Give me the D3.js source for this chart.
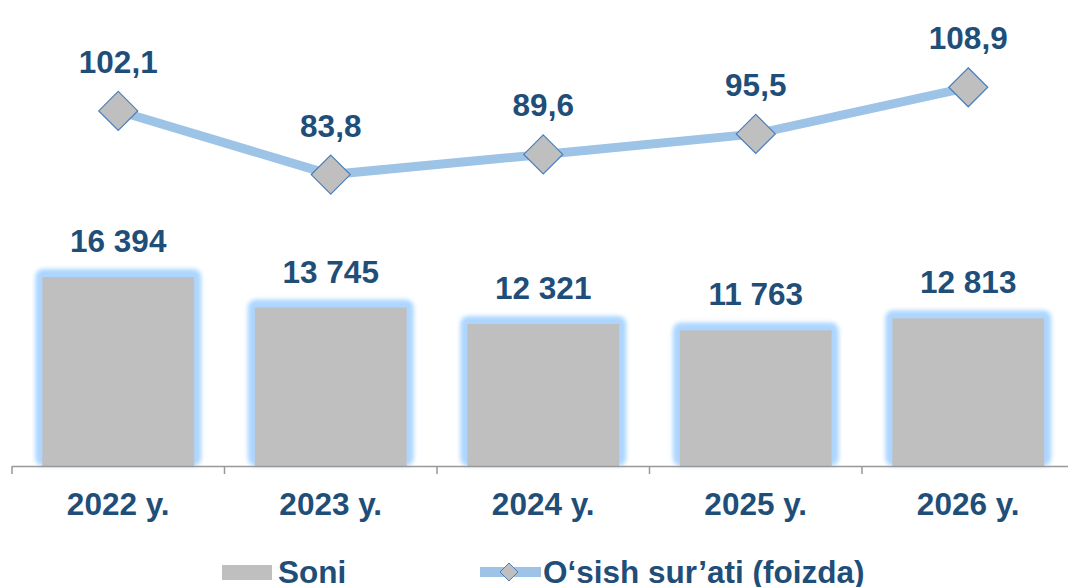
<!DOCTYPE html>
<html>
<head>
<meta charset="utf-8">
<script src="https://cdn.jsdelivr.net/npm/d3@7"></script>
<style>
  body { margin: 0; background: #fff; }
  text { font-family: "Liberation Sans", Arial, sans-serif; font-weight: bold; fill: #1F4E79; }
</style>
</head>
<body>
<script>
const years = ["2022 y.", "2023 y.", "2024 y.", "2025 y.", "2026 y."];
const soni = [16394, 13745, 12321, 11763, 12813];
const osish = [102.1, 83.8, 89.6, 95.5, 108.9];
const soniLabels = ["16 394", "13 745", "12 321", "11 763", "12 813"];
const osishLabels = ["102,1", "83,8", "89,6", "95,5", "108,9"];

const width = 1068, height = 587;
const base = 466;
const fs = "31.5px";

const svg = d3.select("body").append("svg")
  .attr("width", width)
  .attr("height", height);

const defs = svg.append("defs");
defs.append("filter").attr("id", "glow")
  .attr("x", "-20%").attr("y", "-20%").attr("width", "140%").attr("height", "140%")
  .append("feGaussianBlur").attr("stdDeviation", 2);

const x = d3.scaleBand()
  .domain(years)
  .range([12, 1074.5])
  .paddingInner(0.285)
  .paddingOuter(0.1425);

const xTick = d3.scaleBand().domain(years).range([12, 1074.5]);

const yBar = d3.scaleLinear().domain([0, 40420]).range([base, 0]);
const yLine = d3.scaleLinear().domain([0, 134]).range([base, 0]);

// bars with soft blue glow
const bars = svg.append("g");
bars.selectAll("rect.glow")
  .data(soni)
  .join("rect")
  .attr("class", "glow")
  .attr("x", (d, i) => x(years[i]) - 7)
  .attr("y", d => yBar(d) - 8)
  .attr("width", x.bandwidth() + 14)
  .attr("height", d => base - yBar(d) + 8)
  .attr("rx", 8)
  .attr("fill", "#acd6ff")
  .attr("filter", "url(#glow)");

bars.selectAll("rect.bar")
  .data(soni)
  .join("rect")
  .attr("class", "bar")
  .attr("x", (d, i) => x(years[i]))
  .attr("y", d => yBar(d))
  .attr("width", x.bandwidth())
  .attr("height", d => base - yBar(d))
  .attr("fill", "#BFBFBF");

// axis
svg.append("line")
  .attr("x1", 12).attr("x2", width)
  .attr("y1", base + 0.5).attr("y2", base + 0.5)
  .attr("stroke", "#999").attr("stroke-width", 1.5);

svg.selectAll("line.tick")
  .data(years.concat(["end"]))
  .join("line")
  .attr("class", "tick")
  .attr("x1", (d, i) => i < years.length ? xTick(d) : xTick(years[4]) + xTick.bandwidth())
  .attr("x2", (d, i) => i < years.length ? xTick(d) : xTick(years[4]) + xTick.bandwidth())
  .attr("y1", base)
  .attr("y2", base + 8)
  .attr("stroke", "#999").attr("stroke-width", 1.5);

svg.selectAll("text.cat")
  .data(years)
  .join("text")
  .attr("class", "cat")
  .attr("x", d => x(d) + x.bandwidth() / 2)
  .attr("y", 515)
  .attr("text-anchor", "middle")
  .style("font-size", fs)
  .text(d => d);

svg.selectAll("text.barlabel")
  .data(soni)
  .join("text")
  .attr("class", "barlabel")
  .attr("x", (d, i) => x(years[i]) + x.bandwidth() / 2)
  .attr("y", d => yBar(d) - 25)
  .attr("text-anchor", "middle")
  .style("font-size", fs)
  .text((d, i) => soniLabels[i]);

// line series
const line = d3.line()
  .x((d, i) => x(years[i]) + x.bandwidth() / 2)
  .y(d => yLine(d));

svg.append("path")
  .datum(osish)
  .attr("d", line)
  .attr("fill", "none")
  .attr("stroke", "#9DC3E6")
  .attr("stroke-width", 9);

const diamond = (cx, cy, r) => `M${cx},${cy - r}L${cx + r},${cy}L${cx},${cy + r}L${cx - r},${cy}Z`;

svg.selectAll("path.marker")
  .data(osish)
  .join("path")
  .attr("class", "marker")
  .attr("d", (d, i) => diamond(x(years[i]) + x.bandwidth() / 2, yLine(d), 19.5))
  .attr("fill", "#BFBFBF")
  .attr("stroke", "#4A7EBB")
  .attr("stroke-width", 1.2);

svg.selectAll("text.linelabel")
  .data(osish)
  .join("text")
  .attr("class", "linelabel")
  .attr("x", (d, i) => x(years[i]) + x.bandwidth() / 2)
  .attr("y", d => yLine(d) - 38)
  .attr("text-anchor", "middle")
  .style("font-size", fs)
  .text((d, i) => osishLabels[i]);

// legend
const legend = svg.append("g");
legend.append("rect")
  .attr("x", 222).attr("y", 565).attr("width", 50).attr("height", 15)
  .attr("fill", "#BFBFBF");
legend.append("text")
  .attr("x", 278).attr("y", 583)
  .style("font-size", fs)
  .text("Soni");

legend.append("line")
  .attr("x1", 480).attr("x2", 541)
  .attr("y1", 572).attr("y2", 572)
  .attr("stroke", "#9DC3E6").attr("stroke-width", 10);
legend.append("path")
  .attr("d", diamond(509, 572, 9))
  .attr("fill", "#BFBFBF")
  .attr("stroke", "#4A7EBB")
  .attr("stroke-width", 1);
legend.append("text")
  .attr("x", 543).attr("y", 583)
  .style("font-size", fs)
  .text("O‘sish sur’ati (foizda)");
</script>
</body>
</html>
